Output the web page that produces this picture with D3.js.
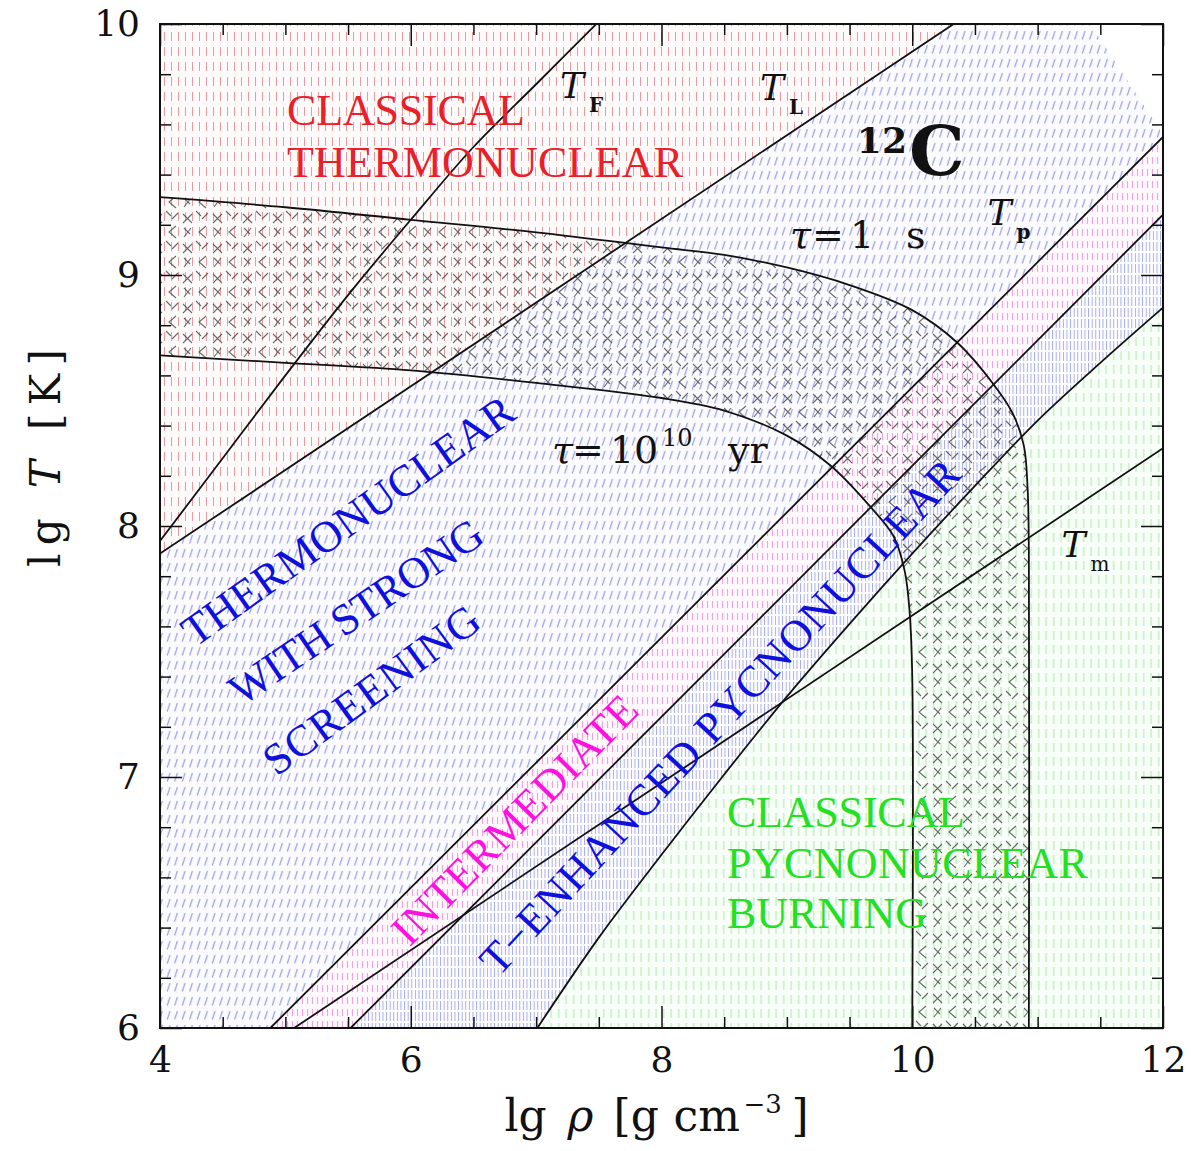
<!DOCTYPE html>
<html><head><meta charset="utf-8">
<script src="https://cdn.jsdelivr.net/npm/d3@7"></script>
<style>body{margin:0;background:#fff}</style>
</head><body>
<svg id="chart" width="1191" height="1151"></svg>
<script>
// ---------- data (lg rho, lg T) ----------
const xTickLabels = [4, 6, 8, 10, 12];
const yTickLabels = [6, 7, 8, 9, 10];
const xMinorTicks = [4.5, 5, 5.5, 6.5, 7, 7.5, 8.5, 9, 9.5, 10.5, 11, 11.5];
const yMinorTicks = [6.2, 6.4, 6.6, 6.8, 7.2, 7.4, 7.6, 7.8, 8.2, 8.4, 8.6, 8.8, 9.2, 9.4, 9.6, 9.8];

const lineTF = [[4,7.94],[4.5,8.27],[5,8.60],[5.5,8.92],[6,9.22],[6.5,9.51],[7,9.76],[7.5,10.01]];
const lineTL = [[4,7.89],[10.33,10]];
const lineTpUpper = [[4.88,6],[12,9.55]];
const lineTpLower = [[5.52,6],[12,9.24]];
const linePycno = [[7.01,6],[7.5,6.36],[8,6.69],[8.5,7.01],[9,7.32],[9.5,7.61],[10,7.89],[10.5,8.16],[11,8.42],[11.5,8.65],[12,8.87]];
const lineTm = [[5.07,6],[12,8.31]];
const tau1s = [[4,9.31],[5,9.27],[6,9.22],[7,9.17],[8,9.11],[8.5,9.08],[9,9.03],[9.5,8.96],[10,8.86],[10.36,8.73],[10.64,8.57],[10.80,8.45],[10.89,8.32],[10.92,8.15],[10.93,7.9],[10.93,6]];
const tau1e10yr = [[4,8.68],[5,8.65],[6,8.62],[7,8.57],[8,8.51],[8.5,8.46],[9,8.36],[9.35,8.24],[9.66,8.08],[9.85,7.96],[9.94,7.82],[9.98,7.65],[10,7.4],[10,6]];
const screeningEdge = [[11.42,10],[12,9.56]];

// ---------- layout ----------
const x = d3.scaleLinear().domain([4,12]).range([160,1163]);
const y = d3.scaleLinear().domain([6,10]).range([1028,24]);
const svg = d3.select("#chart");
const defs = svg.append("defs");
const SERIF = "'DejaVu Serif', serif";
const TEXTSERIF = "'Liberation Serif', serif";

defs.append("clipPath").attr("id","plotClip").append("rect")
  .attr("x",x(4)).attr("y",y(10)).attr("width",x(12)-x(4)).attr("height",y(6)-y(10));

function pattern(id,w,h,bg){
  const p = defs.append("pattern").attr("id",id).attr("patternUnits","userSpaceOnUse")
    .attr("width",w).attr("height",h);
  if(bg) p.append("rect").attr("width",w).attr("height",h).attr("fill",bg);
  return p;
}
pattern("pRed",7,15,"#fffafa").append("line").attr("x1",3.5).attr("x2",3.5).attr("y1",2).attr("y2",11)
  .attr("stroke","#ec9aa2").attr("stroke-width",1);
pattern("pScreen",7.5,14,"#fbfbff").append("line").attr("x1",2.2).attr("y1",11.5).attr("x2",5).attr("y2",3)
  .attr("stroke","#8a90dc").attr("stroke-width",1);
pattern("pPink",5,12,"#fff8fd").append("line").attr("x1",2.5).attr("x2",2.5).attr("y1",1).attr("y2",8)
  .attr("stroke","#f4a2e2").attr("stroke-width",1.1);
pattern("pTenh",3.6,11,"#fdfdff").append("line").attr("x1",1.4).attr("x2",1.4).attr("y1",0).attr("y2",9)
  .attr("stroke","#9ba0e6").attr("stroke-width",0.9);
pattern("pGreen",7.5,14,"#f8fff8").append("line").attr("x1",3.7).attr("x2",3.7).attr("y1",1).attr("y2",10)
  .attr("stroke","#aae6aa").attr("stroke-width",1);
const pc = pattern("pCross",30,30,null);
pc.append("path").attr("d","M3,4L12,13M12,4L3,13M26,16L19,22L26,28M16,1L21,6M28,3L22,9M4,18L10,24M11,18L4,27")
  .attr("fill","none").attr("stroke","#444").attr("stroke-width",1.1).attr("stroke-opacity",0.8);

const lin = d3.line().x(d=>x(d[0])).y(d=>y(d[1]));
const crv = d3.line().x(d=>x(d[0])).y(d=>y(d[1])).curve(d3.curveCatmullRom.alpha(0.5));
const rev = a => a.slice().reverse();

const plot = svg.append("g").attr("clip-path","url(#plotClip)");

// regions
plot.append("path").attr("d", lin([...lineTL,[4,10]])+"Z").attr("fill","url(#pRed)");
plot.append("path").attr("d", lin([...lineTL,...screeningEdge,...rev(lineTpUpper),[4,6]])+"Z").attr("fill","url(#pScreen)");
plot.append("path").attr("d", lin([...lineTpUpper,...rev(lineTpLower)])+"Z").attr("fill","url(#pPink)");
plot.append("path").attr("d", lin(lineTpLower)+"L"+crv(rev(linePycno)).slice(1)+"Z").attr("fill","url(#pTenh)");
plot.append("path").attr("d", crv(linePycno)+"L"+x(12)+","+y(6)+"Z").attr("fill","url(#pGreen)");
plot.append("path").attr("d", crv(tau1s)+"L"+crv(rev(tau1e10yr)).slice(1)+"Z").attr("fill","url(#pCross)");

// curves
[lineTF, tau1s, tau1e10yr, linePycno].forEach(d=>{
  plot.append("path").attr("d",crv(d)).attr("fill","none").attr("stroke","#111").attr("stroke-width",1.8);
});
[lineTL, lineTpUpper, lineTpLower, lineTm].forEach(d=>{
  plot.append("path").attr("d",lin(d)).attr("fill","none").attr("stroke","#111").attr("stroke-width",1.8);
});

// ---------- labels ----------
const lab = svg.append("g").attr("font-family",SERIF);
function plain(txt,px,py,opts){
  const t = lab.append("text").attr("x",x(px)).attr("y",y(py)).text(txt)
    .attr("font-family",TEXTSERIF).attr("font-size",44).attr("fill",opts.color||"#111");
  if(opts.len) t.attr("textLength",opts.len).attr("lengthAdjust","spacing");
  if(opts.rot!==undefined) t.attr("transform",`rotate(${opts.rot},${x(px)},${y(py)})`);
  return t;
}
plain("CLASSICAL",5.013,9.598,{color:"#e8202a",len:238});
plain("THERMONUCLEAR",5.013,9.390,{color:"#e8202a",len:396});
plain("CLASSICAL",8.522,6.801,{color:"#22e022",len:238});
plain("PYCNONUCLEAR",8.522,6.598,{color:"#22e022",len:361});
plain("BURNING",8.522,6.398,{color:"#22e022",len:200});
plain("THERMONUCLEAR",4.279,7.514,{color:"#1010dd",len:397,rot:-35.5});
plain("WITH STRONG",4.65,7.28,{color:"#1010dd",len:296,rot:-34});
plain("SCREENING",4.93,7.0,{color:"#1010dd",len:256,rot:-36});
plain("INTERMEDIATE",5.99,6.32,{color:"#ff10e0",len:330,rot:-45.5});
plain("T\u2212ENHANCED PYCNONUCLEAR",6.70,6.20,{color:"#1010dd",len:684,rot:-47.2});

function tLabel(sub,px,py,subBold){
  const t = lab.append("text").attr("x",x(px)).attr("y",y(py)).attr("fill","#111");
  t.append("tspan").attr("font-style","italic").attr("font-size",36).text("T");
  t.append("tspan").attr("font-size",20).attr("dx",5).attr("dy",14)
    .attr("font-weight",subBold?"bold":"normal").text(sub);
}
tLabel("F",7.19,9.705,true);
tLabel("L",8.785,9.697,true);
tLabel("p",10.60,9.199,true);
tLabel("m",11.19,7.876,false);

// 12C
const c12 = lab.append("text").attr("x",x(9.558)).attr("y",y(9.486)).attr("fill","#111").attr("font-weight","bold");
c12.append("tspan").attr("font-size",36).text("12");
c12.append("tspan").attr("font-size",70).attr("dy",22).attr("dx",2).text("C");

// tau labels
function tau1(px,py){
  const x0=x(px), y0=y(py);
  const t = lab.append("text").attr("y",y0).attr("fill","#111").attr("font-size",38);
  t.append("tspan").attr("x",x0).attr("font-style","italic").text("\u03c4");
  t.append("tspan").attr("x",x0+22).text("=");
  t.append("tspan").attr("x",x0+60).text("1");
  t.append("tspan").attr("x",x0+116).text("s");
}
tau1(9.024,9.108);
function tau10(px,py){
  const x0=x(px), y0=y(py);
  const t = lab.append("text").attr("y",y0).attr("fill","#111").attr("font-size",38);
  t.append("tspan").attr("x",x0).attr("font-style","italic").text("\u03c4");
  t.append("tspan").attr("x",x0+20).text("=");
  t.append("tspan").attr("x",x0+58).text("10");
  t.append("tspan").attr("x",x0+110).attr("dy",-17).attr("font-size",24).text("10");
  t.append("tspan").attr("x",x0+176).attr("dy",17).text("yr");
}
tau10(7.126,8.251);

// ---------- axes ----------
const axG = svg.append("g");
function styleAxis(g){
  g.select(".domain").remove();
  g.selectAll(".tick line").attr("stroke","#111").attr("stroke-width",1.5);
  g.selectAll("text").attr("font-family",SERIF).attr("font-size",36).attr("fill","#111");
}
axG.append("g").attr("transform",`translate(0,${y(6)})`)
  .call(d3.axisBottom(x).tickValues(xTickLabels).tickSize(-22).tickPadding(18).tickFormat(d3.format("d"))).call(styleAxis);
axG.append("g").attr("transform",`translate(0,${y(6)})`)
  .call(d3.axisBottom(x).tickValues(xMinorTicks).tickSize(-11).tickFormat("")).call(styleAxis);
axG.append("g").attr("transform",`translate(0,${y(10)})`)
  .call(d3.axisTop(x).tickValues(xTickLabels).tickSize(-22).tickFormat("")).call(styleAxis);
axG.append("g").attr("transform",`translate(0,${y(10)})`)
  .call(d3.axisTop(x).tickValues(xMinorTicks).tickSize(-11).tickFormat("")).call(styleAxis);
axG.append("g").attr("transform",`translate(${x(4)},0)`)
  .call(d3.axisLeft(y).tickValues(yTickLabels).tickSize(-22).tickPadding(20).tickFormat(d3.format("d"))).call(styleAxis);
axG.append("g").attr("transform",`translate(${x(4)},0)`)
  .call(d3.axisLeft(y).tickValues(yMinorTicks).tickSize(-11).tickFormat("")).call(styleAxis);
axG.append("g").attr("transform",`translate(${x(12)},0)`)
  .call(d3.axisRight(y).tickValues(yTickLabels).tickSize(-22).tickFormat("")).call(styleAxis);
axG.append("g").attr("transform",`translate(${x(12)},0)`)
  .call(d3.axisRight(y).tickValues(yMinorTicks).tickSize(-11).tickFormat("")).call(styleAxis);

svg.append("rect").attr("x",x(4)).attr("y",y(10)).attr("width",x(12)-x(4)).attr("height",y(6)-y(10))
  .attr("fill","none").attr("stroke","#111").attr("stroke-width",2);

// axis titles
const xc = (x(4)+x(12))/2;
const xt = svg.append("text").attr("y",1131)
  .attr("font-family",SERIF).attr("font-size",44).attr("fill","#111");
xt.append("tspan").attr("x",xc-157).text("lg");
xt.append("tspan").attr("x",xc-94).attr("font-style","italic").text("\u03c1");
xt.append("tspan").attr("x",xc-48).text("[g");
xt.append("tspan").attr("x",xc+12).text("cm");
xt.append("tspan").attr("x",xc+82).attr("font-size",26).attr("dy",-18).text("\u22123");
xt.append("tspan").attr("x",xc+130).attr("dy",18).text("]");

const yt = svg.append("text").attr("transform","translate(60,458) rotate(-90)").attr("text-anchor","middle")
  .attr("font-family",SERIF).attr("font-size",42).attr("fill","#111")
  .attr("textLength",218).attr("lengthAdjust","spacing");
yt.append("tspan").text("lg ");
yt.append("tspan").attr("font-style","italic").text("T");
yt.append("tspan").text(" [K]");
</script>
</body></html>
